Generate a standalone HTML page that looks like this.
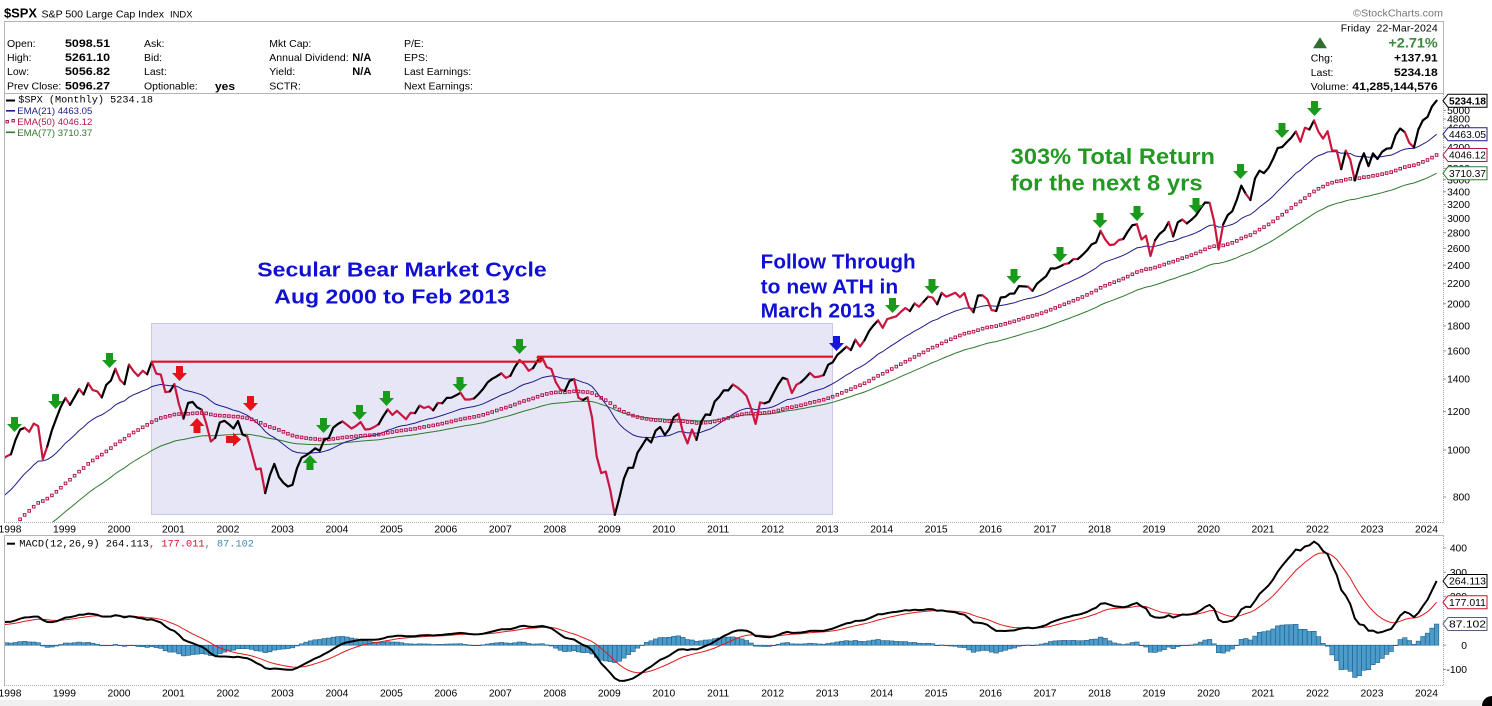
<!DOCTYPE html>
<html><head><meta charset="utf-8">
<style>html,body{margin:0;padding:0;background:#fff;}svg{display:block;}</style>
</head><body>
<svg id="c" xmlns="http://www.w3.org/2000/svg" width="1492" height="706" viewBox="0 0 1492 706" font-family="'Liberation Sans', Arial, sans-serif">
<defs>
<clipPath id="cp"><rect x="5" y="94" width="1438" height="428"/></clipPath>
<clipPath id="cm"><rect x="5" y="536" width="1438" height="150"/></clipPath>
</defs>
<rect x="0" y="0" width="1492" height="706" fill="#fff"/>
<rect x="0" y="700" width="1492" height="6" fill="#f0f0f0"/>

<!-- header -->
<text x="4" y="17.3" font-size="13" font-weight="bold" textLength="33" lengthAdjust="spacingAndGlyphs">$SPX</text>
<text x="41.5" y="17.3" font-size="10.5" textLength="122.5" lengthAdjust="spacingAndGlyphs">S&amp;P 500 Large Cap Index</text>
<text x="170" y="17.3" font-size="9" textLength="22.5" lengthAdjust="spacingAndGlyphs">INDX</text>
<text x="1353" y="16.7" font-size="10.5" fill="#777" textLength="90" lengthAdjust="spacingAndGlyphs">©StockCharts.com</text>

<line x1="4" y1="21.5" x2="1444" y2="21.5" stroke="#b4b4b4"/>
<line x1="4" y1="93.5" x2="1444" y2="93.5" stroke="#b4b4b4"/>
<line x1="4.5" y1="21" x2="4.5" y2="523" stroke="#b4b4b4"/>
<line x1="1443.5" y1="21" x2="1443.5" y2="94" stroke="#b4b4b4"/>

<g font-size="10.5">
<text x="7" y="47">Open:</text><text x="7" y="61">High:</text><text x="7" y="75">Low:</text><text x="7" y="89.3">Prev Close:</text>
<text x="144" y="47">Ask:</text><text x="144" y="61">Bid:</text><text x="144" y="75">Last:</text><text x="144" y="89.3">Optionable:</text>
<text x="269.3" y="47">Mkt Cap:</text><text x="269.3" y="61">Annual Dividend:</text><text x="269.3" y="75">Yield:</text><text x="269.3" y="89.3">SCTR:</text>
<text x="404" y="47">P/E:</text><text x="404" y="61">EPS:</text><text x="404" y="75">Last Earnings:</text><text x="404" y="89.3">Next Earnings:</text>
</g>
<g font-size="11" font-weight="bold">
<text x="65" y="47" textLength="45" lengthAdjust="spacingAndGlyphs">5098.51</text>
<text x="65" y="61" textLength="45" lengthAdjust="spacingAndGlyphs">5261.10</text>
<text x="65" y="75" textLength="45" lengthAdjust="spacingAndGlyphs">5056.82</text>
<text x="65" y="89.3" textLength="45" lengthAdjust="spacingAndGlyphs">5096.27</text>
<text x="215" y="90" textLength="20" lengthAdjust="spacingAndGlyphs">yes</text>
<text x="352.3" y="61" textLength="19" lengthAdjust="spacingAndGlyphs">N/A</text>
<text x="352.3" y="75" textLength="19" lengthAdjust="spacingAndGlyphs">N/A</text>
</g>
<text x="1340.7" y="31.7" font-size="10.5" textLength="97" lengthAdjust="spacing" xml:space="preserve">Friday  22-Mar-2024</text>
<polygon points="1313,48.3 1320,37.3 1327,48.3" fill="#2f6e2f"/>
<text x="1388.4" y="47.3" font-size="14" font-weight="bold" fill="#3b873b" textLength="49.3" lengthAdjust="spacingAndGlyphs">+2.71%</text>
<text x="1310.7" y="61.7" font-size="10.5">Chg:</text>
<text x="1310.7" y="76" font-size="10.5">Last:</text>
<text x="1310.7" y="90" font-size="10.5">Volume:</text>
<g font-size="11" font-weight="bold">
<text x="1394" y="61.7" textLength="43.7" lengthAdjust="spacingAndGlyphs">+137.91</text>
<text x="1394" y="76" textLength="43.7" lengthAdjust="spacingAndGlyphs">5234.18</text>
<text x="1352.3" y="90" textLength="85.4" lengthAdjust="spacingAndGlyphs">41,285,144,576</text>
</g>

<!-- shaded region -->
<rect x="151.5" y="323.5" width="681" height="191" fill="#e6e6f7" stroke="#c8c8ec" stroke-width="1"/>

<g id="pp" clip-path="url(#cp)"></g>

<!-- red resistance lines -->
<g stroke="#e0101e" stroke-width="2.2" fill="none">
<line x1="151" y1="361.7" x2="541" y2="361.7"/>
<line x1="537" y1="356.7" x2="833" y2="356.7"/>
<line x1="537" y1="356.7" x2="542" y2="361.7"/>
</g>

<g id="arr"></g>

<!-- annotations -->
<g font-weight="bold" fill="#1010d4">
<text x="257.3" y="276.7" font-size="20.5" textLength="289.4" lengthAdjust="spacingAndGlyphs">Secular Bear Market Cycle</text>
<text x="274.3" y="303.3" font-size="20.5" textLength="235.7" lengthAdjust="spacingAndGlyphs">Aug 2000 to Feb 2013</text>
<text x="760.7" y="268.3" font-size="20" textLength="155" lengthAdjust="spacingAndGlyphs">Follow Through</text>
<text x="760.7" y="293.3" font-size="20" textLength="137.5" lengthAdjust="spacingAndGlyphs">to new ATH in</text>
<text x="760.7" y="317.3" font-size="20" textLength="114.5" lengthAdjust="spacingAndGlyphs">March 2013</text>
</g>
<g font-weight="bold" fill="#229a22">
<text x="1010.7" y="164" font-size="22.5" textLength="204.3" lengthAdjust="spacingAndGlyphs">303% Total Return</text>
<text x="1010.7" y="190.7" font-size="22.5" textLength="192" lengthAdjust="spacingAndGlyphs">for the next 8 yrs</text>
</g>

<!-- legend -->
<rect x="6" y="99.5" width="9" height="2" fill="#000"/>
<text x="18.3" y="102.7" font-family="'Liberation Mono', monospace" font-size="10" textLength="134.7" lengthAdjust="spacingAndGlyphs">$SPX (Monthly) 5234.18</text>
<rect x="6" y="110" width="9" height="1.6" fill="#1c1c8a"/>
<text x="17.3" y="114" font-size="9.6" fill="#1c1c8a" textLength="75" lengthAdjust="spacingAndGlyphs">EMA(21) 4463.05</text>
<rect x="6" y="120.5" width="2.4" height="2.4" fill="none" stroke="#b3164c" stroke-width="1"/>
<rect x="12" y="119.5" width="2.4" height="2.4" fill="none" stroke="#b3164c" stroke-width="1"/>
<text x="17.3" y="125" font-size="9.6" fill="#b3164c" textLength="75" lengthAdjust="spacingAndGlyphs">EMA(50) 4046.12</text>
<rect x="6" y="131.5" width="9" height="1.6" fill="#2e7a2e"/>
<text x="17.3" y="136" font-size="9.6" fill="#2e7a2e" textLength="75" lengthAdjust="spacingAndGlyphs">EMA(77) 3710.37</text>

<!-- axes -->
<line x1="4" y1="522.5" x2="1444" y2="522.5" stroke="#aaa" stroke-dasharray="1,1"/>
<line x1="1443.5" y1="94" x2="1443.5" y2="523" stroke="#aaa" stroke-dasharray="1,1"/>
<line x1="4" y1="535.5" x2="1444" y2="535.5" stroke="#b4b4b4"/>
<line x1="4.5" y1="535" x2="4.5" y2="686" stroke="#b4b4b4"/>
<line x1="1443.5" y1="536" x2="1443.5" y2="686" stroke="#aaa" stroke-dasharray="1,1"/>
<line x1="4" y1="685.5" x2="1444" y2="685.5" stroke="#aaa" stroke-dasharray="1,1"/>

<g id="mm" clip-path="url(#cm)"></g>

<rect x="7" y="542.7" width="8" height="2" fill="#000"/>
<text x="19.3" y="546.7" font-family="'Liberation Mono', monospace" font-size="10.3" textLength="234.7" lengthAdjust="spacingAndGlyphs">MACD(12,26,9) 264.113<tspan fill="#d0102a">, 177.011</tspan><tspan fill="#3b8ab5">, 87.102</tspan></text>

<g id="ax" font-size="10.3"></g>

<circle cx="1492" cy="706" r="10" fill="#000"/>
</svg>
<script>
const D={
1985:[180,181,181,180,190,192,191,189,182,190,202,211],
1986:[212,227,238,235,247,251,236,253,231,244,249,242],
1987:[274,284,292,288,290,304,319,330,322,252,230,247],
1988:[257,268,259,261,262,274,272,262,272,279,274,278],
1989:[297,289,295,310,321,318,346,351,349,340,346,353],
1990:[329,332,340,331,361,358,356,323,306,304,322,330],
1991:[344,367,375,375,390,371,388,395,388,392,375,417],
1992:[409,413,404,415,415,408,424,414,418,419,431,436],
1993:[439,443,452,440,450,451,448,464,459,468,462,466],
1994:[482,467,446,451,457,444,458,475,463,472,454,459],
1995:[470,487,501,515,533,545,562,562,584,582,605,616],
1996:[636,640,646,654,669,671,640,652,687,705,757,741],
1997:[786,791,757,801,848,885,954,899,947,915,955,970],
1998:[980,1049,1101,1111,1090,1133,1120,957,1017,1098,1163,1229],
1999:[1279,1238,1286,1335,1301,1372,1328,1320,1283,1362,1389,1469],
2000:[1394,1366,1499,1452,1420,1455,1431,1518,1436,1429,1315,1320],
2001:[1366,1240,1160,1249,1256,1224,1211,1134,1041,1060,1139,1148],
2002:[1130,1107,1147,1076,1067,990,912,916,815,886,936,880],
2003:[856,841,848,917,964,975,990,1008,996,1051,1058,1112],
2004:[1131,1145,1126,1107,1121,1141,1102,1104,1115,1130,1174,1212],
2005:[1181,1204,1181,1157,1192,1191,1234,1220,1229,1207,1249,1248],
2006:[1280,1281,1295,1311,1270,1270,1277,1304,1336,1378,1401,1418],
2007:[1438,1407,1421,1482,1531,1503,1455,1474,1527,1549,1481,1468],
2008:[1379,1331,1323,1386,1400,1280,1267,1283,1165,969,896,903],
2009:[826,735,798,873,919,919,987,1021,1057,1036,1096,1115],
2010:[1074,1104,1169,1187,1089,1031,1102,1049,1141,1183,1181,1258],
2011:[1286,1327,1326,1364,1345,1321,1292,1219,1131,1253,1247,1258],
2012:[1312,1366,1408,1398,1310,1362,1379,1407,1441,1412,1416,1426],
2013:[1498,1515,1569,1598,1631,1606,1686,1633,1682,1757,1806,1848],
2014:[1783,1859,1872,1884,1924,1960,1931,2003,1972,2018,2068,2059],
2015:[1995,2105,2068,2086,2107,2063,2104,1972,1920,2079,2080,2044],
2016:[1940,1932,2060,2065,2097,2099,2174,2171,2168,2126,2199,2239],
2017:[2279,2364,2363,2384,2412,2423,2470,2472,2519,2575,2648,2674],
2018:[2824,2714,2641,2648,2705,2718,2816,2902,2914,2712,2760,2507],
2019:[2704,2784,2834,2946,2752,2942,2980,2926,2977,3038,3141,3231],
2020:[3226,2954,2585,2912,3044,3100,3271,3500,3363,3270,3622,3756],
2021:[3714,3811,3973,4181,4204,4298,4395,4523,4308,4605,4567,4766],
2022:[4516,4374,4530,4132,4132,3785,4130,3955,3586,3872,4080,3840],
2023:[4077,3970,4109,4169,4180,4450,4589,4508,4288,4194,4568,4770],
2024:[4846,5096,5234.18]};
let c=[];for(let y=1985;y<=2024;y++)c=c.concat(D[y]);
const N=c.length,I0=156,S=154;
const X=i=>11+4.54*(i-I0);
const Y=v=>1907.5-211*Math.log(v);
const YM=v=>645.2-0.2429*v;
function ema(a,n){const k=2/(n+1);const o=[];let e=a[0];for(let i=0;i<a.length;i++){e=i?a[i]*k+e*(1-k):a[0];o.push(e);}return o;}
const e21=ema(c,21),e50=ema(c,50),e77=ema(c,77),e12=ema(c,12),e26=ema(c,26);
const m=c.map((v,i)=>e12[i]-e26[i]);const sg=ema(m,9);const h=m.map((v,i)=>v-sg[i]);
function pl(a,f){let p='';for(let i=S;i<N;i++){p+=(i==S?'M':'L')+X(i).toFixed(1)+','+f(a[i]).toFixed(1);}return p;}
let s='';
s+=`<path d="${pl(e77,Y)}" fill="none" stroke="#2e7a2e" stroke-width="1"/>`;
s+=`<path d="${pl(e21,Y)}" fill="none" stroke="#1c1c8a" stroke-width="1"/>`;
for(let i=S;i<N;i++){s+=`<rect x="${(X(i)-1.3).toFixed(1)}" y="${(Y(e50[i])-1.3).toFixed(1)}" width="2.6" height="2.6" fill="none" stroke="#b3164c" stroke-width="1"/>`;}
let cur=null,pts=[];const segs=[];
for(let i=S+1;i<N;i++){const col=h[i]<h[i-1]?'r':'k';if(col!==cur){if(pts.length)segs.push([cur,pts]);cur=col;pts=[[X(i-1),Y(c[i-1])]];}pts.push([X(i),Y(c[i])]);}
segs.push([cur,pts]);
for(const [col,p] of segs){s+=`<polyline points="${p.map(q=>q[0].toFixed(1)+','+q[1].toFixed(1)).join(' ')}" fill="none" stroke="${col=='r'?'#c8163e':'#000'}" stroke-width="2.2" stroke-linejoin="round" stroke-linecap="round"/>`;}
document.getElementById('pp').insertAdjacentHTML('beforeend',s);

let t='';const y0=YM(0);
for(let i=S;i<N;i++){const y1=YM(h[i]);t+=`<rect x="${(X(i)-2.27).toFixed(2)}" y="${Math.min(y0,y1).toFixed(2)}" width="4.54" height="${Math.max(0.5,Math.abs(y1-y0)).toFixed(2)}" fill="#4b9bcb" stroke="#215f86" stroke-width="0.6"/>`;}
t+=`<path d="${pl(sg,YM)}" fill="none" stroke="#e01b1b" stroke-width="1"/>`;
t+=`<path d="${pl(m,YM)}" fill="none" stroke="#000" stroke-width="2" stroke-linejoin="round"/>`;
document.getElementById('mm').insertAdjacentHTML('beforeend',t);

function dn(cx,top,col){return `<polygon points="${cx-3.5},${top} ${cx+3.5},${top} ${cx+3.5},${top+7} ${cx+7.5},${top+7} ${cx},${top+15} ${cx-7.5},${top+7} ${cx-3.5},${top+7}" fill="${col}"/>`;}
function up(cx,top,col){return `<polygon points="${cx},${top} ${cx+7.5},${top+8} ${cx+3.5},${top+8} ${cx+3.5},${top+15} ${cx-3.5},${top+15} ${cx-3.5},${top+8} ${cx-7.5},${top+8}" fill="${col}"/>`;}
function rt(l,cy,col){return `<polygon points="${l},${cy-3.5} ${l+7},${cy-3.5} ${l+7},${cy-7} ${l+15},${cy} ${l+7},${cy+7} ${l+7},${cy+3.5} ${l},${cy+3.5}" fill="${col}"/>`;}
const G='#1a9a1a',R='#e8101a',B='#1414e0';
let a='';
[[14.5,417],[55.5,394],[109.5,353],[323.5,418],[359.5,405],[386.5,391],[460,377],[519.5,339],[892.5,298],[932,279],[1014,269],[1060,247],[1100,213],[1137,206],[1196,198],[1240.5,164],[1282,123],[1314.5,101]].forEach(p=>a+=dn(p[0],p[1],G));
a+=dn(179.5,366,R)+dn(250.5,396,R)+up(197,418,R)+rt(226,439.5,R)+up(310,455,G)+dn(836.5,336,B);
document.getElementById('arr').insertAdjacentHTML('beforeend',a);

let x='';
for(let yr=1998;yr<=2024;yr++){const cx=X(I0+(yr-1998)*12)-1;x+=`<text x="${cx.toFixed(1)}" y="532.5" text-anchor="middle">${yr}</text><text x="${cx.toFixed(1)}" y="696.7" text-anchor="middle">${yr}</text>`;}
for(let v=800;v<=5000;v+=200){const y=Y(v);x+=`<line x1="1443" y1="${y.toFixed(1)}" x2="1446" y2="${y.toFixed(1)}" stroke="#999"/><text x="1470" y="${(y+3.6).toFixed(1)}" text-anchor="end">${v}</text>`;}
[400,300,200,100,0,-100].forEach(v=>{const y=YM(v);x+=`<line x1="1443" y1="${y.toFixed(1)}" x2="1446" y2="${y.toFixed(1)}" stroke="#999"/><text x="1467" y="${(y+3.6).toFixed(1)}" text-anchor="end">${v}</text>`;});
function tag(yc,txt,border,bold){return `<path d="M1443,${yc.toFixed(1)} L1448,${(yc-6.5).toFixed(1)} L1487,${(yc-6.5).toFixed(1)} L1487,${(yc+6.5).toFixed(1)} L1448,${(yc+6.5).toFixed(1)} Z" fill="#fff" stroke="${border}" stroke-width="1"/><text x="1449" y="${(yc+3.6).toFixed(1)}" ${bold?'font-weight="bold"':''} fill="#000" textLength="37" lengthAdjust="spacingAndGlyphs">${txt}</text>`;}
x+=tag(Y(5234.18),'5234.18','#000',true);
x+=tag(Y(4463.05),'4463.05','#1c1c8a',false);
x+=tag(Y(4046.12),'4046.12','#b3164c',false);
x+=tag(Y(3710.37),'3710.37','#2e7a2e',false);
x+=tag(YM(264.113),'264.113','#000',false);
x+=tag(YM(177.011),'177.011','#d0102a',false);
x+=tag(YM(87.102),'87.102','#506080',false);
document.getElementById('ax').insertAdjacentHTML('beforeend',x);
</script>
</body></html>
